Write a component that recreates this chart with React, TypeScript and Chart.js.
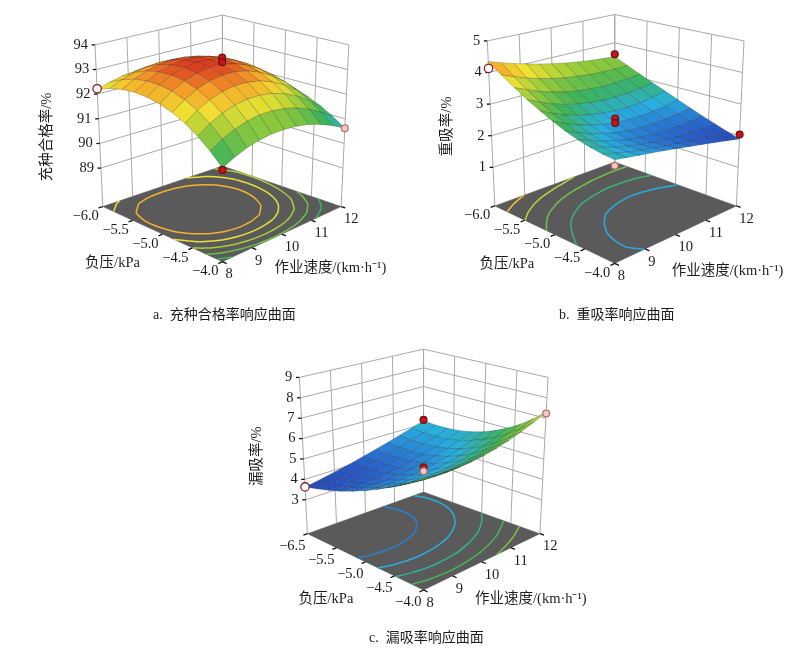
import React, { useEffect, useRef } from 'react';
import { Chart, registerables } from 'chart.js';

Chart.register(...registerables);

// factor grid shared by the three response surfaces
const speedGrid = [8, 8.4, 8.8, 9.2, 9.6, 10, 10.4, 10.8, 11.2, 11.6, 12];
const pressureGrid = [-6, -5.8, -5.6, -5.4, -5.2, -5, -4.8, -4.6, -4.4, -4.2, -4];

const speedTicks = [8, 9, 10, 11, 12];
const speedTickLabels = ['8', '9', '10', '11', '12'];
const pressureTicks = [-6, -5.5, -5, -4.5, -4];
const pressureTickLabels = ['−6.0', '−5.5', '−5.0', '−4.5', '−4.0'];
const pressureTickLabelsC = ['−6.5', '−5.5', '−5.0', '−4.5', '−4.0'];

// a. 充种合格率 /%  (one row per pressure, one column per speed)
const qualifiedRate = [
  [92.20, 92.35, 92.47, 92.54, 92.56, 92.55, 92.49, 92.40, 92.26, 92.07, 91.85],
  [92.42, 92.64, 92.80, 92.90, 92.94, 92.92, 92.84, 92.70, 92.51, 92.24, 91.93],
  [92.57, 92.84, 93.03, 93.16, 93.20, 93.18, 93.08, 92.92, 92.67, 92.36, 91.97],
  [92.64, 92.95, 93.17, 93.31, 93.37, 93.34, 93.23, 93.04, 92.76, 92.40, 91.96],
  [92.63, 92.97, 93.21, 93.36, 93.43, 93.40, 93.28, 93.07, 92.77, 92.38, 91.90],
  [92.55, 92.90, 93.15, 93.31, 93.38, 93.35, 93.23, 93.01, 92.70, 92.30, 91.80],
  [92.39, 92.74, 92.99, 93.16, 93.23, 93.20, 93.08, 92.86, 92.55, 92.15, 91.65],
  [92.16, 92.50, 92.74, 92.90, 92.97, 92.94, 92.83, 92.62, 92.32, 91.94, 91.46],
  [91.85, 92.16, 92.39, 92.54, 92.60, 92.58, 92.48, 92.29, 92.02, 91.67, 91.23],
  [91.46, 91.74, 91.94, 92.08, 92.14, 92.12, 92.03, 91.87, 91.63, 91.32, 90.95],
  [91.00, 91.23, 91.40, 91.51, 91.56, 91.55, 91.48, 91.36, 91.17, 90.92, 90.62],
];
const qualifiedTicks = [89, 90, 91, 92, 93, 94];
const qualifiedLevels = [92.8, 92.4, 92.0, 91.6, 91.2];
// design runs: speed, pressure, observed value, side of the surface
const qualifiedRuns: [number, number, number, string][] = [
  [8, -6, 92.22, 'edge'],
  [10, -5, 93.63, 'above'],
  [10, -5, 93.44, 'above'],
  [8, -4, 90.93, 'above'],
  [12, -4, 90.62, 'below'],
];

// b. 重吸率 /%
const reabsorbRate = [
  [4.35, 4.22, 4.10, 3.99, 3.89, 3.80, 3.72, 3.65, 3.59, 3.55, 3.51],
  [4.06, 3.90, 3.76, 3.64, 3.54, 3.45, 3.39, 3.34, 3.31, 3.30, 3.31],
  [3.80, 3.63, 3.47, 3.34, 3.23, 3.15, 3.10, 3.06, 3.06, 3.08, 3.12],
  [3.57, 3.38, 3.21, 3.08, 2.97, 2.90, 2.85, 2.83, 2.84, 2.87, 2.94],
  [3.37, 3.17, 3.00, 2.87, 2.76, 2.69, 2.64, 2.62, 2.64, 2.69, 2.77],
  [3.19, 3.00, 2.83, 2.70, 2.59, 2.52, 2.48, 2.46, 2.48, 2.52, 2.60],
  [3.04, 2.86, 2.70, 2.58, 2.47, 2.40, 2.36, 2.33, 2.35, 2.38, 2.44],
  [2.92, 2.76, 2.61, 2.50, 2.39, 2.32, 2.28, 2.24, 2.24, 2.25, 2.29],
  [2.83, 2.70, 2.57, 2.46, 2.37, 2.29, 2.24, 2.19, 2.16, 2.15, 2.15],
  [2.77, 2.66, 2.56, 2.47, 2.39, 2.31, 2.24, 2.17, 2.12, 2.06, 2.02],
  [2.74, 2.67, 2.60, 2.53, 2.45, 2.37, 2.28, 2.19, 2.10, 2.00, 1.90],
];
const reabsorbTicks = [1, 2, 3, 4, 5];
const reabsorbLevels = [4.05, 3.68, 3.31, 2.94, 2.57];
const reabsorbRuns: [number, number, number, string][] = [
  [8, -6, 4.13, 'edge'],
  [12, -6, 3.59, 'above'],
  [10, -5, 2.65, 'above'],
  [10, -5, 2.51, 'above'],
  [8, -4, 2.57, 'below'],
  [12, -4, 2.04, 'above'],
];

// c. 漏吸率 /%
const missRate = [
  [3.63, 3.73, 3.84, 3.97, 4.10, 4.25, 4.41, 4.58, 4.77, 4.96, 5.17],
  [3.79, 3.84, 3.91, 4.00, 4.10, 4.23, 4.37, 4.53, 4.71, 4.90, 5.12],
  [3.97, 3.98, 4.01, 4.07, 4.15, 4.25, 4.38, 4.53, 4.71, 4.90, 5.13],
  [4.18, 4.15, 4.15, 4.19, 4.25, 4.33, 4.45, 4.59, 4.76, 4.96, 5.19],
  [4.42, 4.36, 4.34, 4.35, 4.40, 4.47, 4.57, 4.71, 4.88, 5.08, 5.32],
  [4.68, 4.60, 4.56, 4.56, 4.59, 4.65, 4.75, 4.88, 5.05, 5.26, 5.50],
  [4.97, 4.87, 4.82, 4.81, 4.83, 4.89, 4.98, 5.11, 5.28, 5.50, 5.74],
  [5.29, 5.18, 5.12, 5.10, 5.12, 5.17, 5.27, 5.40, 5.57, 5.79, 6.04],
  [5.63, 5.53, 5.46, 5.44, 5.46, 5.51, 5.61, 5.75, 5.92, 6.15, 6.40],
  [6.00, 5.90, 5.84, 5.82, 5.85, 5.91, 6.01, 6.15, 6.33, 6.56, 6.82],
  [6.40, 6.31, 6.26, 6.25, 6.28, 6.35, 6.46, 6.61, 6.80, 7.03, 7.30],
];
const missTicks = [3, 4, 5, 6, 7, 8, 9];
const missLevels = [4.5, 5.0, 5.5, 6.0, 6.5];
const missRuns: [number, number, number, string][] = [
  [8, -6, 3.63, 'edge'],
  [12, -6, 5.21, 'above'],
  [10, -5, 4.76, 'above'],
  [10, -5, 4.58, 'below'],
  [12, -4, 7.23, 'below'],
];

type Pt = { x: number; y: number };

interface PanelSpec {
  box: [number, number, number, number];
  L: Pt; F: Pt; R: Pt; B: Pt;
  z0: number; kF: number; kB: number; spread: number;
  cMin: number; cMax: number;
  grid: number[][];
  zTicks: number[];
  levels: number[];
  runs: [number, number, number, string][];
  pressureLabels: string[];
  pressureOffset: Pt;
  speedOffset: Pt;
  zTitle: string;
  zTitlePos: Pt;
  pressureTitlePos: Pt;
  speedTitlePos: Pt;
  caption: string;
  captionPos: Pt;
}

const WALL = '#a9a9a9';
const FLOOR = '#5a5a5a';
const MESH = 'rgba(20,20,20,0.36)';
const NUM_FONT = '14.5px "Liberation Serif", "Times New Roman", serif';
const TEXT_FONT = '14.5px "Liberation Serif", "Noto Sans CJK SC", serif';
const CAPTION_FONT = '14px "Liberation Serif", "Noto Sans CJK SC", serif';

const rampStops: [number, number, number, number][] = [
  [0, 38, 48, 150],
  [0.18, 40, 90, 200],
  [0.33, 40, 175, 225],
  [0.48, 60, 180, 90],
  [0.62, 140, 200, 60],
  [0.76, 240, 225, 50],
  [0.88, 245, 160, 40],
  [1, 215, 45, 30],
];

function ramp(t: number) {
  const u = Math.max(0, Math.min(1, t));
  for (let i = 1; i < rampStops.length; i++) {
    const [t1, r1, g1, b1] = rampStops[i];
    if (u <= t1) {
      const [t0, r0, g0, b0] = rampStops[i - 1];
      const f = (u - t0) / (t1 - t0);
      return `rgb(${Math.round(r0 + (r1 - r0) * f)},${Math.round(g0 + (g1 - g0) * f)},${Math.round(b0 + (b1 - b0) * f)})`;
    }
  }
  return 'rgb(215,45,30)';
}

function project(g: PanelSpec, s: number, p: number, z: number): Pt {
  const a = (s - speedTicks[0]) / (speedTicks[4] - speedTicks[0]);
  const b = (p - pressureTicks[0]) / (pressureTicks[4] - pressureTicks[0]);
  const w0 = (1 - a) * (1 - b), w1 = (1 - a) * b, w2 = a * b, w3 = a * (1 - b);
  const fx = g.L.x * w0 + g.F.x * w1 + g.R.x * w2 + g.B.x * w3;
  const fy = g.L.y * w0 + g.F.y * w1 + g.R.y * w2 + g.B.y * w3;
  const h = z - g.z0;
  const depth = (1 - b + a) / 2;
  const k = g.kF + (g.kB - g.kF) * depth;
  const cx = (g.F.x + g.B.x) / 2;
  return { x: fx + (fx - cx) * h * g.spread, y: fy - h * k };
}

// grid index (may be fractional) -> factor value
function along(values: number[], f: number) {
  const i = Math.min(Math.floor(f), values.length - 2);
  return values[i] + (f - i) * (values[i + 1] - values[i]);
}

// marching squares, chained into polylines of fractional grid indices
function contourLines(grid: number[][], level: number) {
  const pos = new Map<string, [number, number]>();
  const links = new Map<string, string[]>();
  const hit = (key: string, i0: number, j0: number, i1: number, j1: number) => {
    if (!pos.has(key)) {
      const v0 = grid[j0][i0], v1 = grid[j1][i1];
      const t = (level - v0) / (v1 - v0);
      pos.set(key, [i0 + (i1 - i0) * t, j0 + (j1 - j0) * t]);
    }
    return key;
  };
  const link = (k1: string, k2: string) => {
    if (!links.has(k1)) links.set(k1, []);
    if (!links.has(k2)) links.set(k2, []);
    links.get(k1)!.push(k2);
    links.get(k2)!.push(k1);
  };
  for (let j = 0; j < grid.length - 1; j++) {
    for (let i = 0; i < grid[0].length - 1; i++) {
      const v = [grid[j][i], grid[j][i + 1], grid[j + 1][i + 1], grid[j + 1][i]];
      const c = [[i, j], [i + 1, j], [i + 1, j + 1], [i, j + 1]];
      const keys = [`h${i},${j}`, `v${i + 1},${j}`, `h${i},${j + 1}`, `v${i},${j}`];
      const hits: string[] = [];
      for (let e = 0; e < 4; e++) {
        const n = (e + 1) % 4;
        if ((v[e] < level) !== (v[n] < level)) hits.push(hit(keys[e], c[e][0], c[e][1], c[n][0], c[n][1]));
      }
      if (hits.length === 2) link(hits[0], hits[1]);
      if (hits.length === 4) {
        const mid = (v[0] + v[1] + v[2] + v[3]) / 4;
        if ((mid < level) === (v[0] < level)) {
          link(hits[0], hits[1]);
          link(hits[2], hits[3]);
        } else {
          link(hits[3], hits[0]);
          link(hits[1], hits[2]);
        }
      }
    }
  }
  const used = new Set<string>();
  const walk = (start: string) => {
    const path = [start];
    used.add(start);
    let cur = start;
    for (;;) {
      const next = (links.get(cur) || []).find((n) => !used.has(n));
      if (!next) break;
      used.add(next);
      path.push(next);
      cur = next;
    }
    return path;
  };
  const paths: string[][] = [];
  links.forEach((ns, k) => {
    if (ns.length === 1 && !used.has(k)) paths.push(walk(k));
  });
  links.forEach((_, k) => {
    if (!used.has(k)) {
      const p = walk(k);
      p.push(p[0]);
      paths.push(p);
    }
  });
  return paths.map((p) => p.map((k) => pos.get(k)!));
}

function buildDatasets(g: PanelSpec) {
  const list: any[] = []; // painter order, bottom first
  const zTop = g.zTicks[g.zTicks.length - 1];
  const s0 = speedTicks[0], s1 = speedTicks[4];
  const p0 = pressureTicks[0], p1 = pressureTicks[4];
  const seg = (pts: Pt[], color: string, width: number) => ({
    type: 'line',
    data: pts,
    borderColor: color,
    borderWidth: width,
    pointRadius: 0,
    fill: false,
    tension: 0,
    clip: false,
  });

  // back walls
  for (const s of speedTicks) list.push(seg([project(g, s, p0, g.z0), project(g, s, p0, zTop)], WALL, 1));
  for (const p of pressureTicks) list.push(seg([project(g, s1, p, g.z0), project(g, s1, p, zTop)], WALL, 1));
  for (const z of g.zTicks) {
    list.push(seg([project(g, s0, p0, z), project(g, s1, p0, z), project(g, s1, p1, z)], WALL, 1));
    const q = project(g, s0, p0, z);
    list.push(seg([q, { x: q.x - 3.5, y: q.y }], '#111', 1.3));
  }

  // floor with its tick marks
  const floor = [project(g, s0, p0, g.z0), project(g, s0, p1, g.z0), project(g, s1, p1, g.z0), project(g, s1, p0, g.z0)];
  list.push({ ...seg([...floor, floor[0]], FLOOR, 0.5), fill: 'shape', backgroundColor: FLOOR });
  for (const p of pressureTicks) list.push(seg([project(g, s0, p, g.z0), project(g, s0 - 0.14, p, g.z0)], '#111', 1.3));
  for (const s of speedTicks) list.push(seg([project(g, s, p1, g.z0), project(g, s, p1 + 0.07, g.z0)], '#111', 1.3));

  // contour lines on the floor
  for (const level of g.levels) {
    const color = ramp((level - g.cMin) / (g.cMax - g.cMin));
    for (const path of contourLines(g.grid, level)) {
      const pts = path.map(([fi, fj]) => project(g, along(speedGrid, fi), along(pressureGrid, fj), g.z0));
      list.push({ ...seg(pts, color, 1.5), tension: 0.3 });
    }
  }

  // surface patches, far to near
  const quads: { depth: number; ds: any }[] = [];
  for (let j = 0; j < pressureGrid.length - 1; j++) {
    for (let i = 0; i < speedGrid.length - 1; i++) {
      const corners = [[i, j], [i + 1, j], [i + 1, j + 1], [i, j + 1]];
      const pts = corners.map(([ii, jj]) => project(g, speedGrid[ii], pressureGrid[jj], g.grid[jj][ii]));
      const zMean = corners.reduce((acc, [ii, jj]) => acc + g.grid[jj][ii], 0) / 4;
      const a = (i + 0.5) / (speedGrid.length - 1);
      const b = (j + 0.5) / (pressureGrid.length - 1);
      quads.push({
        depth: (1 - b + a) / 2,
        ds: { ...seg([...pts, pts[0]], MESH, 0.6), fill: 'shape', backgroundColor: ramp((zMean - g.cMin) / (g.cMax - g.cMin)) },
      });
    }
  }
  quads.sort((q1, q2) => q2.depth - q1.depth);
  quads.forEach((q) => list.push(q.ds));

  // design runs
  const runStyle: Record<string, [string, string, number]> = {
    above: ['#c4161c', '#7a0c0c', 3.4],
    below: ['#f6c9c6', '#b5706c', 3.4],
    edge: ['#ffffff', '#8c1a1a', 4.2],
  };
  for (const kind of Object.keys(runStyle)) {
    const pts = g.runs.filter((r) => r[3] === kind).map((r) => project(g, r[0], r[1], r[2]));
    if (!pts.length) continue;
    const [bg, border, radius] = runStyle[kind];
    list.push({
      type: 'line',
      data: pts,
      showLine: false,
      pointRadius: radius,
      pointBackgroundColor: bg,
      pointBorderColor: border,
      pointBorderWidth: 1.3,
      clip: false,
    });
  }
  return list.reverse(); // chart.js paints index 0 last
}

function labelPlugin(g: PanelSpec) {
  return {
    id: 'surfaceLabels',
    afterDatasetsDraw(chart: any) {
      const { ctx } = chart;
      const px = (p: Pt) => ({ x: chart.scales.x.getPixelForValue(p.x), y: chart.scales.y.getPixelForValue(p.y) });
      ctx.save();
      ctx.fillStyle = '#1c1c1c';
      ctx.textBaseline = 'middle';
      ctx.font = NUM_FONT;
      ctx.textAlign = 'right';
      for (const z of g.zTicks) {
        const q = px(project(g, speedTicks[0], pressureTicks[0], z));
        ctx.fillText(String(z), q.x - 7, q.y);
      }
      pressureTicks.forEach((p, i) => {
        const q = px(project(g, speedTicks[0], p, g.z0));
        ctx.fillText(g.pressureLabels[i], q.x + g.pressureOffset.x, q.y + g.pressureOffset.y);
      });
      ctx.textAlign = 'left';
      speedTicks.forEach((s, i) => {
        const q = px(project(g, s, pressureTicks[4], g.z0));
        ctx.fillText(speedTickLabels[i], q.x + g.speedOffset.x, q.y + g.speedOffset.y);
      });
      ctx.font = TEXT_FONT;
      ctx.textAlign = 'center';
      const pt = px(g.pressureTitlePos);
      ctx.fillText('负压/kPa', pt.x, pt.y);
      const st = px(g.speedTitlePos);
      ctx.fillText('作业速度/(km·h⁻¹)', st.x, st.y);
      const zt = px(g.zTitlePos);
      ctx.save();
      ctx.translate(zt.x, zt.y);
      ctx.rotate(-Math.PI / 2);
      ctx.fillText(g.zTitle, 0, 0);
      ctx.restore();
      ctx.font = CAPTION_FONT;
      const cp = px(g.captionPos);
      ctx.fillText(g.caption, cp.x, cp.y);
      ctx.restore();
    },
  };
}

const panels: PanelSpec[] = [
  {
    box: [0, 0, 404, 330],
    L: { x: 100, y: 208 }, F: { x: 223, y: 265 }, R: { x: 345, y: 208 }, B: { x: 223, y: 166 },
    z0: 87.44, kF: 27.2, kB: 23.8, spread: 0.0099,
    cMin: 89.2, cMax: 93.45,
    grid: qualifiedRate, zTicks: qualifiedTicks, levels: qualifiedLevels, runs: qualifiedRuns,
    pressureLabels: pressureTickLabels,
    pressureOffset: { x: -4, y: 10 }, speedOffset: { x: 3, y: 13 },
    zTitle: '充种合格率/%', zTitlePos: { x: 43, y: 136 },
    pressureTitlePos: { x: 110, y: 267 }, speedTitlePos: { x: 334, y: 272 },
    caption: 'a.  充种合格率响应曲面', captionPos: { x: 225, y: 321 },
  },
  {
    box: [404, 0, 404, 330],
    L: { x: 491.7, y: 207.3 }, F: { x: 615, y: 266.7 }, R: { x: 740, y: 207.3 }, B: { x: 615, y: 162 },
    z0: -0.22, kF: 36.15, kB: 29.25, spread: 0.012,
    cMin: 1.6, cMax: 4.6,
    grid: reabsorbRate, zTicks: reabsorbTicks, levels: reabsorbLevels, runs: reabsorbRuns,
    pressureLabels: pressureTickLabels,
    pressureOffset: { x: -4.5, y: 9.5 }, speedOffset: { x: 3, y: 13 },
    zTitle: '重吸率/%', zTitlePos: { x: 443, y: 125 },
    pressureTitlePos: { x: 504, y: 268 }, speedTitlePos: { x: 731, y: 275 },
    caption: 'b.  重吸率响应曲面', captionPos: { x: 617, y: 321 },
  },
  {
    box: [180, 330, 450, 328],
    L: { x: 305, y: 535 }, F: { x: 424, y: 593.3 }, R: { x: 543.3, y: 535 }, B: { x: 424, y: 492 },
    z0: 1.34, kF: 22.9, kB: 19.3, spread: 0.0091,
    cMin: 3.0, cMax: 9.0,
    grid: missRate, zTicks: missTicks, levels: missLevels, runs: missRuns,
    pressureLabels: pressureTickLabelsC,
    pressureOffset: { x: -2, y: 12.5 }, speedOffset: { x: 3, y: 13 },
    zTitle: '漏吸率/%', zTitlePos: { x: 253, y: 455 },
    pressureTitlePos: { x: 324, y: 603 }, speedTitlePos: { x: 534, y: 603 },
    caption: 'c.  漏吸率响应曲面', captionPos: { x: 427, y: 643 },
  },
];

function SurfacePanel({ spec }: { spec: PanelSpec }) {
  const canvasRef = useRef<HTMLCanvasElement>(null);
  const [left, top, width, height] = spec.box;

  useEffect(() => {
    if (!canvasRef.current) return;
    const chart = new Chart(canvasRef.current, {
      type: 'line',
      data: { datasets: buildDatasets(spec) },
      options: {
        responsive: false,
        animation: false,
        events: [],
        layout: { padding: 0 },
        scales: {
          x: { type: 'linear', min: left, max: left + width, display: false },
          y: { type: 'linear', min: top, max: top + height, reverse: true, display: false },
        },
        plugins: { legend: { display: false }, tooltip: { enabled: false } },
      },
      plugins: [labelPlugin(spec)],
    } as any);
    return () => chart.destroy();
  }, [spec]);

  return (
    <canvas
      ref={canvasRef}
      width={width}
      height={height}
      style={{ position: 'absolute', left, top, width, height }}
    />
  );
}

export default function App() {
  return (
    <div style={{ position: 'fixed', left: 0, top: 0, width: 808, height: 658, background: '#fff' }}>
      {panels.map((spec, i) => (
        <SurfacePanel key={i} spec={spec} />
      ))}
    </div>
  );
}
